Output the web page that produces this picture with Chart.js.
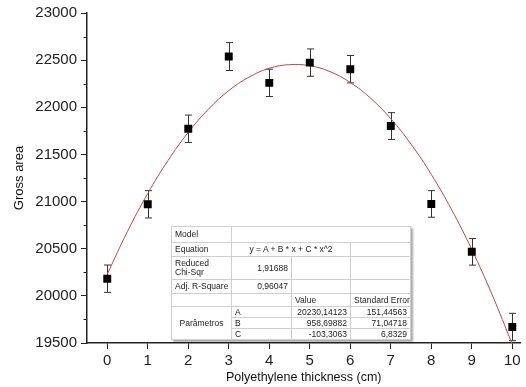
<!DOCTYPE html>
<html>
<head>
<meta charset="utf-8">
<script src="https://cdn.jsdelivr.net/npm/chart.js@4.4.1/dist/chart.umd.min.js"></script>
<style>
  body { margin: 0; background: #fff; }
  #wrap { position: relative; width: 526px; height: 387px; }
  #fitTable {
    position: absolute; left: 171px; top: 226px; width: 239px; height: 113px;
    border-collapse: collapse; table-layout: fixed; background: #fff;
    border: 1px solid #8a8a8a; box-shadow: 2px 2px 2px rgba(0,0,0,0.35);
    font-family: 'Liberation Sans', Arial, sans-serif; font-size: 8.5px; color: #222;
  }
  #fitTable td { border: 1px solid #cfcfcf; padding: 0 3px; line-height: 9px; white-space: nowrap; overflow: visible; }
  #fitTable .r { text-align: right; }
  #fitTable .c { text-align: center; }
</style>
</head>
<body>
<div id="wrap">
  <canvas id="mainChart" width="526" height="387"></canvas>
  <table id="fitTable">
    <colgroup><col style="width:60px"><col style="width:60px"><col style="width:59px"><col style="width:60px"></colgroup>
    <tr style="height:16px"><td>Model</td><td colspan="3"></td></tr>
    <tr style="height:14px"><td>Equation</td><td colspan="2" class="c">y = A + B * x + C * x^2</td><td></td></tr>
    <tr style="height:23px"><td>Reduced<br>Chi-Sqr</td><td class="r">1,91688</td><td></td><td></td></tr>
    <tr style="height:14px"><td>Adj. R-Square</td><td class="r">0,96047</td><td></td><td></td></tr>
    <tr style="height:13px"><td></td><td></td><td>Value</td><td>Standard Error</td></tr>
    <tr style="height:11px"><td rowspan="3" class="c">Parâmetros</td><td>A</td><td class="r">20230,14123</td><td class="r">151,44563</td></tr>
    <tr style="height:11px"><td>B</td><td class="r">958,69882</td><td class="r">71,04718</td></tr>
    <tr style="height:11px"><td>C</td><td class="r">-103,3063</td><td class="r">6,8329</td></tr>
  </table>
</div>
<script>
const thickness = [0, 1, 2, 3, 4, 5, 6, 7, 8, 9, 10];
const grossArea = [20182, 20971, 21772, 22538, 22259, 22474, 22404, 21801, 20975, 20467, 19670];
const errors = [145, 145, 145, 148, 145, 145, 145, 142, 141, 141, 145];

// Fitted curve
const fitX = [0, 0.5, 1, 1.5, 2, 2.5, 3, 3.5, 4, 4.5, 5, 5.5, 6, 6.5, 7, 7.5, 8, 8.5, 9, 9.5, 10];
const fitY = [20230, 20684, 21086, 21436, 21734, 21981, 22177, 22320, 22414, 22452, 22441,
              22378, 22263, 22097, 21879, 21609, 21288, 20915, 20491, 20014, 19486];

const xTicks = [0, 1, 2, 3, 4, 5, 6, 7, 8, 9, 10];
const yMinorTicks = [19750, 20250, 20750, 21250, 21750, 22250, 22750];

const fontFamily = "'Liberation Sans', Arial, sans-serif";
const axisColor = '#222';

// error bars + minor ticks
const extrasPlugin = {
    id: 'extras',
    beforeDatasetsDraw(chart) {
        const ctx = chart.ctx;
        const xs = chart.scales.x, ys = chart.scales.y;
        ctx.save();
        ctx.beginPath();
        ctx.rect(chart.chartArea.left, chart.chartArea.top, chart.chartArea.right - chart.chartArea.left, chart.chartArea.bottom - chart.chartArea.top);
        ctx.clip();
        ctx.strokeStyle = '#333';
        ctx.lineWidth = 1;
        thickness.forEach((t, i) => {
            const px = Math.round(xs.getPixelForValue(t)) + 0.5;
            const top = ys.getPixelForValue(grossArea[i] + errors[i]);
            const bot = ys.getPixelForValue(grossArea[i] - errors[i]);
            ctx.beginPath();
            ctx.moveTo(px, top); ctx.lineTo(px, bot);
            ctx.moveTo(px - 3.5, top); ctx.lineTo(px + 3.5, top);
            ctx.moveTo(px - 3.5, bot); ctx.lineTo(px + 3.5, bot);
            ctx.stroke();
        });
        ctx.restore();
    },
    afterDraw(chart) {
        const ctx = chart.ctx;
        const ys = chart.scales.y;
        const left = chart.chartArea.left;
        ctx.save();
        ctx.strokeStyle = axisColor;
        ctx.lineWidth = 1;
        yMinorTicks.forEach(v => {
            const py = Math.round(ys.getPixelForValue(v)) + 0.5;
            ctx.beginPath();
            ctx.moveTo(left - 3.5, py); ctx.lineTo(left, py);
            ctx.stroke();
        });
        ctx.restore();
    }
};

const ctx = document.getElementById('mainChart').getContext('2d');
new Chart(ctx, {
    type: 'scatter',
    data: {
        datasets: [{
            label: 'Fit',
            data: fitX.map((x, i) => ({ x: x, y: fitY[i] })),
            showLine: true,
            borderColor: '#c24545',
            borderWidth: 1,
            pointRadius: 0,
            tension: 0.4,
            order: 2
        }, {
            label: 'Gross area',
            data: thickness.map((x, i) => ({ x: x, y: grossArea[i] })),
            pointStyle: 'rect',
            pointRadius: 5.6,
            backgroundColor: '#000',
            borderWidth: 0,
            order: 1
        }]
    },
    options: {
        responsive: false,
        animation: false,
        devicePixelRatio: 1,
        layout: { padding: { top: 13, right: 1, bottom: 0, left: 0 } },
        plugins: {
            legend: { display: false },
            tooltip: { enabled: false }
        },
        scales: {
            x: {
                type: 'linear',
                min: -0.5,
                max: 10.2,
                afterBuildTicks: scale => { scale.ticks = xTicks.map(v => ({ value: v })); },
                afterFit: scale => { scale.height = 44; },
                grid: { drawOnChartArea: false, tickLength: 6, color: axisColor, lineWidth: 1 },
                border: { display: true, color: axisColor, width: 1.5 },
                ticks: {
                    padding: 3,
                    color: '#222',
                    maxRotation: 0,
                    callback: v => String(v),
                    font: { family: fontFamily, size: 15 }
                },
                title: {
                    display: true,
                    text: 'Polyethylene thickness (cm)',
                    color: '#111',
                    padding: { top: 0, bottom: 2 },
                    font: { family: fontFamily, size: 12.5 }
                }
            },
            y: {
                min: 19500,
                max: 23000,
                afterFit: scale => { scale.width = 87; },
                grid: { drawOnChartArea: false, tickLength: 6, color: axisColor, lineWidth: 1 },
                border: { display: true, color: axisColor, width: 1.5 },
                ticks: {
                    stepSize: 500,
                    padding: 4,
                    color: '#222',
                    callback: v => String(v),
                    font: { family: fontFamily, size: 15 }
                },
                title: {
                    display: true,
                    text: 'Gross area',
                    color: '#111',
                    padding: { top: 12, bottom: 0 },
                    font: { family: fontFamily, size: 13 }
                }
            }
        }
    },
    plugins: [extrasPlugin]
});
</script>
</body>
</html>
